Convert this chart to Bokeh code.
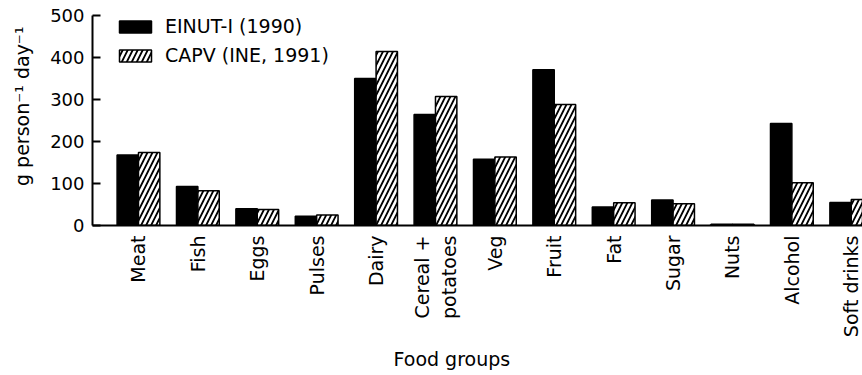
import math
from bokeh.plotting import figure
from bokeh.models import FixedTicker, Legend, LegendItem, Title, Range1d
from bokeh.embed import file_html
from bokeh.resources import INLINE

categories = ["Meat", "Fish", "Eggs", "Pulses", "Dairy", "Cereal +\npotatoes", "Veg",
              "Fruit", "Fat", "Sugar", "Nuts", "Alcohol", "Soft drinks"]
einut_1990 = [168, 93, 40, 22, 350, 264, 158, 371, 44, 61, 3, 243, 55]
capv_1991 = [174, 83, 38, 25, 414, 307, 163, 288, 54, 52, 3, 102, 62]
y_ticks = [0, 100, 200, 300, 400, 500]
x_title = "Food groups"

FONT = "DejaVu Sans"
FS = "19px"
FS_TICK = "18px"

idx = list(range(len(categories)))
bw = 0.36

p = figure(width=862, height=375, output_backend="svg", toolbar_location=None,
           x_range=Range1d(-0.774, 12.189), y_range=Range1d(0, 500),
           min_border_left=92, min_border_right=0, min_border_top=15, min_border_bottom=150)
p.outline_line_color = None
p.xgrid.grid_line_color = None
p.ygrid.grid_line_color = None

r1 = p.vbar(x=[i - bw / 2 for i in idx], top=einut_1990, width=bw,
            fill_color="black", line_color="black", line_width=1.5)
r2 = p.vbar(x=[i + bw / 2 for i in idx], top=capv_1991, width=bw,
            fill_color="white", line_color="black", line_width=1.5,
            hatch_pattern="/", hatch_color="black", hatch_scale=10, hatch_weight=1.8)

legend = Legend(items=[LegendItem(label="EINUT-I (1990)", renderers=[r1]),
                       LegendItem(label="CAPV (INE, 1991)", renderers=[r2])],
                location=(23, 159), padding=0, spacing=7, margin=0,
                glyph_width=40, glyph_height=15, label_height=15, label_standoff=10,
                border_line_color=None, background_fill_alpha=0,
                label_text_font=FONT, label_text_font_size=FS, label_text_color="black")
p.add_layout(legend)

xa = p.xaxis[0]
xa.ticker = FixedTicker(ticks=idx)
xa.major_label_overrides = {i: c for i, c in enumerate(categories)}
xa.major_label_orientation = math.pi / 2
xa.major_tick_in = 0
xa.major_tick_out = 0
xa.minor_tick_in = 0
xa.minor_tick_out = 0
xa.major_label_standoff = 10
xa.axis_line_width = 2
xa.axis_line_color = "black"
xa.major_label_text_font = FONT
xa.major_label_text_font_size = FS
xa.major_label_text_color = "black"

ya = p.yaxis[0]
ya.ticker = FixedTicker(ticks=y_ticks)
ya.major_tick_in = 8
ya.major_tick_out = 0
ya.minor_tick_in = 0
ya.minor_tick_out = 0
ya.major_tick_line_width = 2
ya.axis_line_width = 2
ya.axis_line_color = "black"
ya.major_label_standoff = 8
ya.major_label_text_font = FONT
ya.major_label_text_font_size = FS_TICK
ya.major_label_text_color = "black"
ya.axis_label = "\u2002\u2002\u2002g person\u207b\u00b9 day\u207b\u00b9"
ya.axis_label_text_font = FONT
ya.axis_label_text_font_size = FS
ya.axis_label_text_font_style = "normal"
ya.axis_label_text_color = "black"
ya.axis_label_standoff = 14

p.add_layout(Title(text=x_title, align="left", offset=301, text_font=FONT,
                   text_font_size=FS, text_font_style="normal", text_color="black"), "below")

open("out.html", "w").write(file_html(p, INLINE))
